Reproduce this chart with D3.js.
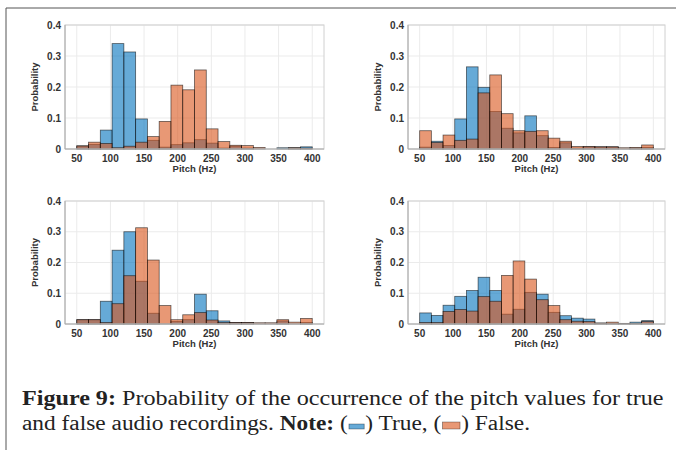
<!DOCTYPE html>
<html>
<head>
<meta charset="utf-8">
<script src="https://cdn.jsdelivr.net/npm/d3@7"></script>
<style>
  body { margin: 0; background: #fff; }
  svg { display: block; }
</style>
</head>
<body>
<div id="container"></div>
<script>
// bin edges: 50 .. 400 Hz in 20 bins of 17.5 Hz
const binEdges = d3.range(21).map(i => 50 + i * 17.5);
const xTicks = [50, 100, 150, 200, 250, 300, 350, 400];
const yTicks = [0, 0.1, 0.2, 0.3, 0.4];

// panel 1 (top left)
const true1  = [0.010, 0.015, 0.061, 0.340, 0.313, 0.097, 0.028, 0.006, 0.014, 0.020, 0.030, 0.019, 0.003, 0.009, 0.003, 0.000, 0.000, 0.004, 0.004, 0.007];
const false1 = [0.010, 0.022, 0.018, 0.004, 0.009, 0.022, 0.040, 0.089, 0.206, 0.191, 0.255, 0.065, 0.024, 0.012, 0.011, 0.005, 0.000, 0.000, 0.004, 0.003];
// panel 2 (top right)
const true2  = [0.006, 0.025, 0.011, 0.097, 0.265, 0.199, 0.121, 0.067, 0.052, 0.107, 0.043, 0.005, 0.020, 0.003, 0.007, 0.007, 0.007, 0.000, 0.003, 0.005];
const false2 = [0.059, 0.021, 0.045, 0.028, 0.032, 0.181, 0.239, 0.114, 0.059, 0.057, 0.059, 0.035, 0.025, 0.008, 0.008, 0.007, 0.007, 0.004, 0.005, 0.013];
// panel 3 (bottom left)
const true3  = [0.014, 0.014, 0.074, 0.240, 0.300, 0.139, 0.035, 0.000, 0.008, 0.014, 0.097, 0.043, 0.010, 0.005, 0.005, 0.000, 0.000, 0.010, 0.000, 0.005];
const false3 = [0.014, 0.014, 0.005, 0.066, 0.157, 0.313, 0.208, 0.060, 0.014, 0.030, 0.037, 0.013, 0.005, 0.005, 0.005, 0.004, 0.004, 0.014, 0.006, 0.018];
// panel 4 (bottom right)
const true4  = [0.036, 0.028, 0.061, 0.090, 0.109, 0.152, 0.109, 0.032, 0.048, 0.103, 0.097, 0.038, 0.027, 0.019, 0.016, 0.003, 0.002, 0.002, 0.006, 0.011];
const false4 = [0.005, 0.005, 0.041, 0.047, 0.042, 0.089, 0.074, 0.158, 0.205, 0.146, 0.079, 0.060, 0.014, 0.009, 0.008, 0.003, 0.006, 0.002, 0.002, 0.008];

const blue = 'rgb(0,114,189)';
const orange = 'rgb(217,83,25)';

const svg = d3.select('#container')
    .append('svg')
    .attr('width', 676)
    .attr('height', 450);

svg.append('rect').attr('width', 676).attr('height', 450).attr('fill', '#fff');

// figure frame (top and left only visible)
svg.append('path')
    .attr('d', 'M6,450 V8 H676')
    .attr('fill', 'none')
    .attr('stroke', '#555')
    .attr('stroke-width', 1);

function drawPanel(left, top, w, h, trueVals, falseVals) {
    const g = svg.append('g');
    const x = d3.scaleLinear().domain([32.5, 417.5]).range([left, left + w]);
    const y = d3.scaleLinear().domain([0, 0.4]).range([top + h, top]);

    // grid
    g.selectAll('.gx').data(xTicks).enter().append('line')
        .attr('x1', d => x(d)).attr('x2', d => x(d))
        .attr('y1', top).attr('y2', top + h)
        .attr('stroke', '#ebebeb').attr('stroke-width', 1);
    g.selectAll('.gy').data(yTicks).enter().append('line')
        .attr('x1', left).attr('x2', left + w)
        .attr('y1', d => y(d)).attr('y2', d => y(d))
        .attr('stroke', '#ebebeb').attr('stroke-width', 1);

    const bars = (vals, color) => {
        g.selectAll(null).data(vals).enter().append('rect')
            .attr('x', (d, i) => x(binEdges[i]))
            .attr('width', (d, i) => x(binEdges[i + 1]) - x(binEdges[i]))
            .attr('y', d => y(d))
            .attr('height', d => y(0) - y(d))
            .attr('fill', color)
            .attr('fill-opacity', 0.6)
            .attr('stroke', '#000')
            .attr('stroke-opacity', d => d > 0 ? 0.6 : 0)
            .attr('stroke-width', 0.8);
    };
    bars(trueVals, blue);
    bars(falseVals, orange);

    // box
    g.append('rect')
        .attr('x', left).attr('y', top).attr('width', w).attr('height', h)
        .attr('fill', 'none').attr('stroke', '#d0d0d0').attr('stroke-width', 1);
    g.append('path')
        .attr('d', `M${left},${top} V${top + h} H${left + w}`)
        .attr('fill', 'none').attr('stroke', '#a8a8a8').attr('stroke-width', 1);

    const font = 'Liberation Sans, Arial, sans-serif';
    // tick labels
    g.selectAll('.xt').data(xTicks).enter().append('text')
        .attr('x', d => x(d)).attr('y', top + h + 12.5)
        .attr('text-anchor', 'middle')
        .attr('font-family', font)
        .attr('font-weight', 'bold').attr('font-size', 10)
        .attr('fill', '#333')
        .text(d => d);
    g.selectAll('.yt').data(yTicks).enter().append('text')
        .attr('x', left - 4).attr('y', d => y(d) + 3.5)
        .attr('text-anchor', 'end')
        .attr('font-family', font)
        .attr('font-weight', 'bold').attr('font-size', 10)
        .attr('fill', '#333')
        .text(d => d === 0 ? '0' : d.toFixed(1));

    g.append('text')
        .attr('x', left + w / 2).attr('y', top + h + 22.5)
        .attr('text-anchor', 'middle')
        .attr('font-family', font)
        .attr('font-weight', 'bold').attr('font-size', 9.5)
        .attr('fill', '#333')
        .text('Pitch (Hz)');
    g.append('text')
        .attr('transform', `translate(${left - 27},${top + h / 2}) rotate(-90)`)
        .attr('text-anchor', 'middle')
        .attr('font-family', font)
        .attr('font-weight', 'bold').attr('font-size', 9.5)
        .attr('fill', '#333')
        .text('Probability');
}

drawPanel(65, 25, 259, 124, true1, false1);
drawPanel(408, 25, 257, 124, true2, false2);
drawPanel(65, 201, 259, 123, true3, false3);
drawPanel(408, 201, 257, 123, true4, false4);

// caption: each line laid out in natural widths, then stretched horizontally
// so it spans the same width as in the figure (the original face is wider)
const serif = 'Liberation Serif, Times New Roman, serif';
const capSize = 20;
function captionLine(y, pieces, rightEdge) {
    const g = svg.append('g');
    let cx = 0;
    pieces.forEach(p => {
        if (p.swatch) {
            g.append('rect').attr('x', cx + 1).attr('y', -p.h - 1).attr('width', p.w).attr('height', p.h)
                .attr('fill', p.swatch).attr('fill-opacity', 0.6)
                .attr('stroke', '#000').attr('stroke-opacity', 0.5).attr('stroke-width', 0.6);
            cx += p.w + 2;
        } else {
            const t = g.append('text')
                .attr('x', cx).attr('y', 0)
                .attr('font-family', serif).attr('font-size', capSize).attr('fill', '#222')
                .attr('font-weight', p.bold ? 'bold' : 'normal')
                .style('white-space', 'pre')
                .text(p.text);
            cx += t.node().getComputedTextLength();
        }
    });
    const k = (rightEdge - 22) / cx;
    g.attr('transform', `translate(22,${y}) scale(${k},1)`);
}
captionLine(405, [
    { text: 'Figure 9: ', bold: true },
    { text: 'Probability of the occurrence of the pitch values for true' }
], 664);
captionLine(430, [
    { text: 'and false audio recordings. ' },
    { text: 'Note: ', bold: true },
    { text: '(' },
    { swatch: blue, w: 13, h: 5 },
    { text: ') True, (' },
    { swatch: orange, w: 15, h: 7 },
    { text: ') False.' }
], 530);
</script>
</body>
</html>
